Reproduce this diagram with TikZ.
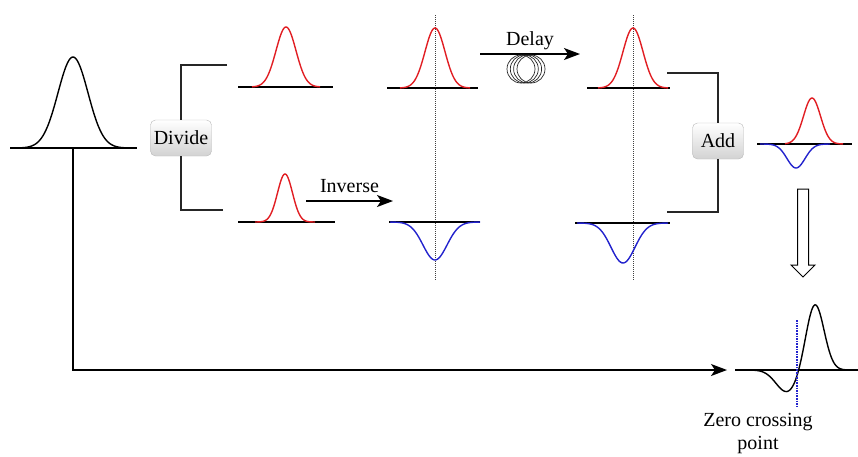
\documentclass[tikz,border=0pt]{standalone}
\usepackage{fontspec}
\setmainfont{Liberation Serif}
\usetikzlibrary{arrows.meta, positioning, calc}
\definecolor{pulsered}{RGB}{225,30,35}
\definecolor{pulseblue}{RGB}{35,35,205}
\tikzset{
  opbox/.style={rectangle, rounded corners=5pt, draw=gray!55,
                top color=white, bottom color=gray!35,
                minimum height=36pt, inner sep=2pt,
                font=\fontsize{20}{24}\selectfont},
  axisline/.style={line width=1.3pt, black},
  wave/.style={line width=1.4pt},
  wire/.style={line width=1.3pt, black!85},
  arrow/.style={-{Stealth[length=16pt,width=12pt,inset=4pt]}, line width=1.3pt},
  marker/.style={densely dotted, line width=1pt, black!75},
  lbl/.style={font=\fontsize{20}{23}\selectfont, inner sep=1pt, text depth=0pt},
}
\begin{document}
\begin{tikzpicture}[x=1pt, y=-1pt]
  \useasboundingbox (0,0) rectangle (858,456);
  \foreach \mx in {435, 633} {
    \draw[marker] (\mx,15) -- (\mx,280);
  }
  \foreach \a/\b/\y in {10/137/148, 238/333/87, 238/335/222, 387/478/88,
                        389/480/222, 587/670/88, 575/670/223, 757/852/144, 735/858/370} {
    \draw[axisline] (\a,\y) -- (\b,\y);
  }
  \foreach \cx/\y/\da/\db/\h/\s/\col in {73/148/20/126/91/15/black,
      286/87/252/320/60/10/pulsered, 285/222/255/315/48/7.5/pulsered,
      435/88/400/470/60/10/pulsered, 435/222/390/480/-38/12/pulseblue,
      633/88/598/668/60/10/pulsered, 623/223/577/668/-40/12/pulseblue,
      812/144/785/843/46/8.5/pulsered, 796/144/760/830/-24/9/pulseblue} {
    \draw[wave, \col] plot[domain=\da:\db, samples=70, smooth]
      (\x, {\y-(\h)*exp(0-(\x-\cx)*(\x-\cx)/(2*\s*\s))});
  }
  \node[opbox, minimum width=61pt] (divide) at (181,138) {Divide};
  \node[opbox, minimum width=51pt] (add) at (718,141) {Add};
  \coordinate (divtop) at (227,65);
  \coordinate (divbot) at (223,210);
  \coordinate (addtop) at (667,73);
  \coordinate (addbot) at (667,212);
  \draw[wire] (divtop) -| (divide.north);
  \draw[wire] (divbot) -| (divide.south);
  \draw[wire] (addtop) -| (add.north);
  \draw[wire] (addbot) -| (add.south);
  \coordinate (invs) at (306,201);
  \coordinate (inve) at (393,201);
  \draw[arrow] (invs) -- node[lbl, above=7pt] (invlbl) {Inverse} (inve);
  \coordinate (dels) at (480,54);
  \coordinate (dele) at (580,54);
  \draw[arrow] (dels) -- node[lbl, above=7pt] (dellbl) {Delay} (dele);
  \foreach \dx in {0, 3.3, 6.6, 10} {
    \draw[black!85, line width=0.7pt] (521+\dx,69) circle (14pt);
  }
  \coordinate (src) at (73,148);
  \coordinate (dst) at (727,370);
  \draw[arrow] (src) |- (dst);
  \draw[line width=1pt, fill=white] (797.5,189) -- (808.5,189) -- (808.5,265)
    -- (815,265) -- (803,277) -- (791,265) -- (797.5,265) -- cycle;
  \draw[wave, black] plot[domain=745:848, samples=120, smooth]
    (\x, {370-66*exp(max(-9,0-(\x-815)*(\x-815)/162))+22*exp(max(-9,0-(\x-787)*(\x-787)/242))});
  \draw[pulseblue, densely dotted, line width=1.6pt] (797,320) -- (797,407);
  \node[lbl, align=center] (zcross) at (758,431) {Zero crossing\\point};
\end{tikzpicture}
\end{document}
